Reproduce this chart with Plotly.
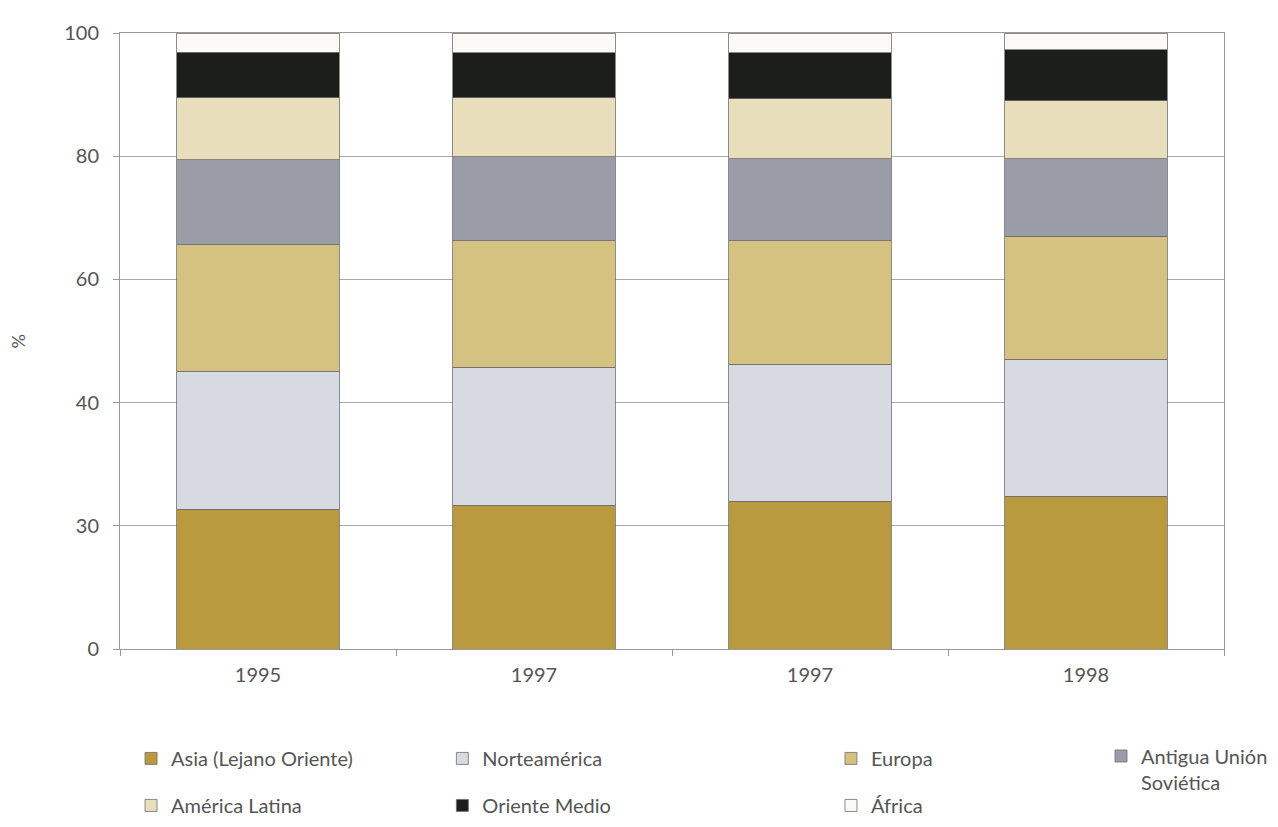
import plotly.graph_objects as go

# Data
categories = ["1995", "1997", "1997", "1998"]
positions = [0, 1, 2, 3]
asia = [22.7, 23.3, 24.0, 24.8]
norteamerica = [22.4, 22.4, 22.2, 22.2]
europa = [20.5, 20.6, 20.1, 20.0]
antigua_urss = [13.8, 13.6, 13.3, 12.6]
america_latina = [10.1, 9.6, 9.7, 9.4]
oriente_medio = [7.4, 7.3, 7.5, 8.3]
africa = [3.1, 3.2, 3.2, 2.7]
ytick_vals = [0, 20, 40, 60, 80, 100]
ytick_text = ["0", "30", "40", "60", "80", "100"]

series = [
    ("Asia (Lejano Oriente)", asia, "#b99a3e", "legend"),
    ("Norteamérica", norteamerica, "#d8dae2", "legend2"),
    ("Europa", europa, "#d6c280", "legend3"),
    ("Antigua Unión<br>Soviética", antigua_urss, "#9a9da8", "legend4"),
    ("América Latina", america_latina, "#e9debc", "legend"),
    ("Oriente Medio", oriente_medio, "#1b1e1b", "legend2"),
    ("África", africa, "#fbfaf6", "legend3"),
]

fig = go.Figure()
for i, (name, vals, color, leg) in enumerate(series):
    fig.add_trace(go.Bar(
        x=positions, y=vals, name=name,
        marker=dict(color=color, line=dict(color="#6e6e6e", width=0.8)),
        width=0.59, legend=leg, legendgroup="g%d" % i,
    ))

font_family = "Lato, 'Open Sans', sans-serif"
legend_common = dict(
    orientation="v", yanchor="top", xanchor="left",
    font=dict(family=font_family, size=20, color="#555555"),
    bgcolor="rgba(0,0,0,0)", tracegroupgap=18, valign="top",
    traceorder="grouped",
)

fig.update_layout(
    width=1262, height=811,
    margin=dict(l=112, r=46, t=25, b=170, autoexpand=False),
    paper_bgcolor="white", plot_bgcolor="white",
    barmode="stack", bargap=0.41,
    font=dict(family=font_family, color="#555555"),
    showlegend=True,
    legend=dict(x=0.010, y=-0.146, **legend_common),
    legend2=dict(x=0.292, y=-0.146, **legend_common),
    legend3=dict(x=0.644, y=-0.146, **legend_common),
    legend4=dict(x=0.8886, y=-0.142, **legend_common),
    xaxis=dict(
        range=[-0.5, 3.5], tickmode="array", tickvals=positions, ticktext=categories,
        tickfont=dict(size=20, color="#555555"), ticks="", showgrid=False,
        ticklabelstandoff=8,
        showline=True, linecolor="#9a9a9a", linewidth=1, mirror=True,
        minor=dict(tick0=0.5, dtick=1, ticks="outside", ticklen=6, tickcolor="#9a9a9a"),
        zeroline=False,
    ),
    yaxis=dict(
        range=[0, 100], tickmode="array", tickvals=ytick_vals, ticktext=ytick_text,
        tickfont=dict(size=20, color="#555555"), ticks="outside", ticklen=6,
        ticklabelstandoff=10,
        tickcolor="#9a9a9a", showgrid=True, gridcolor="#a8a8a8", gridwidth=1,
        showline=True, linecolor="#9a9a9a", linewidth=1, mirror=True,
        zeroline=False,
    ),
    annotations=[dict(
        text="%", xref="paper", yref="paper", x=-0.092, y=0.5,
        xanchor="center", yanchor="middle",
        showarrow=False, textangle=-90,
        font=dict(family=font_family, size=18, color="#555555"),
    )],
)

fig.write_html("out.html")
